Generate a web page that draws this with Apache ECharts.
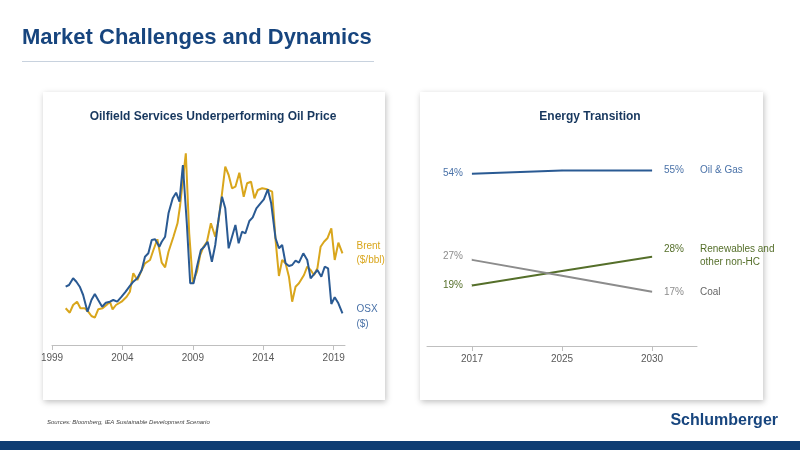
<!DOCTYPE html>
<html><head><meta charset="utf-8">
<script src="https://cdn.jsdelivr.net/npm/echarts@6/dist/echarts.min.js"></script>
<style>html,body{margin:0;padding:0;background:#fff}#c{width:800px;height:450px}</style>
</head><body><div id="c"></div>
<script>
const FONT = '"Liberation Sans Narrow","Liberation Sans",Arial,sans-serif';
// Left chart: indexed price (relative), year fraction
const brentYears = [1999.97,2000.26,2000.50,2000.78,2001.02,2001.33,2001.57,2001.80,2002.04,2002.28,2002.59,2002.87,2003.11,2003.30,2003.54,2003.94,2004.30,2004.53,2004.77,2005.06,2005.37,2005.60,2005.96,2006.20,2006.48,2006.79,2007.03,2007.27,2007.62,2007.91,2008.10,2008.29,2008.50,2008.74,2009.00,2009.29,2009.52,2009.76,2010.00,2010.28,2010.59,2010.83,2011.07,2011.30,2011.54,2011.78,2012.02,2012.30,2012.61,2012.85,2013.13,2013.37,2013.61,2013.92,2014.27,2014.63,2014.87,2015.11,2015.34,2015.58,2015.82,2016.05,2016.29,2016.53,2016.89,2017.12,2017.36,2017.60,2017.84,2018.07,2018.31,2018.55,2018.83,2019.07,2019.33,2019.62];
const brentValues = [36.7,32.3,40,43.3,36.7,36.7,33.3,29,27.3,35.7,36.7,40,43.3,35.7,40,43.3,48.3,53.3,71.7,65,75,81.7,85,95,105.7,82.3,77.7,93.3,108.3,121.7,140,165,191.7,111.7,62.3,73.3,90,98.3,103.3,121.7,108.3,125,151.7,178.3,170,156.7,158.3,172.3,148.3,161.7,163.3,146.7,155,156.7,155.7,153.3,105,69,85,81.7,68.3,43.3,58.3,61.7,70,78.3,75,70,76.7,98.3,103.3,106.7,116.7,85,102.3,91.7];
const osxYears = [1999.97,2000.21,2000.50,2000.73,2000.97,2001.21,2001.52,2001.80,2002.04,2002.28,2002.56,2002.82,2003.11,2003.35,2003.63,2003.94,2004.23,2004.49,2004.77,2005.06,2005.37,2005.60,2005.84,2006.08,2006.32,2006.62,2006.79,2007.03,2007.27,2007.57,2007.81,2008.05,2008.29,2008.57,2008.81,2009.05,2009.29,2009.57,2009.81,2010.05,2010.35,2010.59,2010.83,2011.07,2011.30,2011.54,2011.78,2012.02,2012.25,2012.49,2012.73,2013.01,2013.25,2013.51,2013.80,2014.04,2014.32,2014.56,2014.87,2015.11,2015.34,2015.58,2015.82,2016.05,2016.29,2016.53,2016.84,2017.12,2017.36,2017.65,2017.84,2018.12,2018.36,2018.60,2018.83,2019.07,2019.33,2019.62];
const osxValues = [58.3,60,66.7,63.3,58.3,50,33.3,45,51,45,38.3,42.3,43.3,45,43.3,48.3,53.3,58.3,63.3,66.7,75,88.3,91.7,105,105.7,98.3,103.3,108.3,131.7,146.7,152.3,143.3,180,121.7,61.7,61.7,78.3,95,98.3,103.3,83.3,100,126.7,148.3,136.7,96.7,108.3,120,101.7,113.3,111.7,124,127.7,136.7,141.7,145.7,155.7,141.7,106.7,96.7,100,81.7,79,80,84.3,82.3,91.7,85,66.7,71.7,75,68.3,78.3,76.7,41,47.7,41.7,31.7];
const leftTicks = [1999,2004,2009,2014,2019];
// Right chart: share of energy mix (%)
const etCategories = ['2017','2025','2030'];
const oilGas = [54,55,55];
const renewables = [19,23.5,28];
const coal = [27,22,17];

const chart = echarts.init(document.getElementById('c'));
function xy(arr, ys){return arr.map((y,i)=>[y, ys[i]]);}
const card = (x,y,w,h)=>({type:'rect',shape:{x,y,width:w,height:h},style:{fill:'#fff',shadowBlur:6,shadowOffsetX:1,shadowOffsetY:2,shadowColor:'rgba(0,0,0,0.25)'},z:-10});
const startLabel = (arr,color,off)=>({show:true,position:'left',distance:8,color,fontSize:10,offset:off||[0,0],formatter:p=>p.dataIndex===0?arr[0]+'%':''});
chart.setOption({
  animation:false,
  textStyle:{fontFamily:FONT},
  graphic:[
    card(43,92,342,308), card(420,92,343,308),
    {type:'text',left:22,top:27,style:{text:'Market Challenges and Dynamics',font:'bold 22px '+FONT,fill:'#17457e'}},
    {type:'rect',shape:{x:22,y:61,width:352,height:1},style:{fill:'#c8d2de'}},
    {type:'text',x:213,y:117,style:{text:'Oilfield Services Underperforming Oil Price',font:'bold 12px '+FONT,fill:'#17375e',align:'center',verticalAlign:'middle'}},
    {type:'text',x:590,y:117,style:{text:'Energy Transition',font:'bold 12px '+FONT,fill:'#17375e',align:'center',verticalAlign:'middle'}},
    {type:'text',x:47,y:422,style:{text:'Sources: Bloomberg, IEA Sustainable Development Scenario',font:'italic 6px '+FONT,fill:'#444',verticalAlign:'middle'}},
    {type:'text',x:778,y:421,style:{text:'Schlumberger',font:'bold 16px '+FONT,fill:'#17457e',align:'right',verticalAlign:'middle'}},
    {type:'rect',shape:{x:0,y:441,width:800,height:9},style:{fill:'#0f3d73'}}
  ],
  grid:[
    {left:52,top:150,width:293,height:195},
    {left:427,top:154.6,width:270,height:191.4}
  ],
  xAxis:[
    {type:'value',gridIndex:0,min:1999,max:2019.8,interval:5,
     axisLine:{lineStyle:{color:'#bfbfbf'}},axisTick:{show:true,lineStyle:{color:'#bfbfbf'}},
     splitLine:{show:false},axisLabel:{color:'#595959',fontSize:10,showMaxLabel:false,formatter:v=>leftTicks.includes(v)?String(v):''}},
    {type:'category',gridIndex:1,data:etCategories,boundaryGap:true,
     axisLine:{lineStyle:{color:'#bfbfbf'}},axisTick:{show:true,alignWithLabel:true,lineStyle:{color:'#bfbfbf'}},
     axisLabel:{color:'#595959',fontSize:10}}
  ],
  yAxis:[
    {type:'value',gridIndex:0,min:0,max:195,show:false,splitLine:{show:false}},
    {type:'value',gridIndex:1,min:0,max:60,show:false,splitLine:{show:false}}
  ],
  series:[
    {type:'line',xAxisIndex:0,yAxisIndex:0,data:xy(brentYears,brentValues),showSymbol:false,
     lineStyle:{color:'#d9a61c',width:2},itemStyle:{color:'#d9a61c'},
     endLabel:{show:true,formatter:'Brent\n($/bbl)',color:'#d9a61c',fontSize:10,lineHeight:14,offset:[6,0]}},
    {type:'line',xAxisIndex:0,yAxisIndex:0,data:xy(osxYears,osxValues),showSymbol:false,
     lineStyle:{color:'#2a5a93',width:2},itemStyle:{color:'#2a5a93'},
     endLabel:{show:true,formatter:'OSX\n($)',color:'#4a72a8',fontSize:10,lineHeight:15,offset:[6,3]}},
    {type:'line',xAxisIndex:1,yAxisIndex:1,data:oilGas,showSymbol:true,symbolSize:0.1,
     lineStyle:{color:'#2a5a93',width:2},itemStyle:{color:'#2a5a93'},
     label:startLabel(oilGas,'#4a72a8'),
     endLabel:{show:true,formatter:p=>'{a|'+oilGas[2]+'%}{b|Oil & Gas}',offset:[4,0],
       rich:{a:{color:'#4a72a8',fontSize:10,width:36},b:{color:'#4a72a8',fontSize:10}}}},
    {type:'line',xAxisIndex:1,yAxisIndex:1,data:renewables,showSymbol:true,symbolSize:0.1,
     lineStyle:{color:'#556f2a',width:2},itemStyle:{color:'#556f2a'},
     label:startLabel(renewables,'#556f2a'),
     endLabel:{show:true,formatter:p=>'{a|'+renewables[2]+'%}{b|Renewables and}\n{s|}{b|other non-HC}',offset:[4,-1],
       rich:{a:{color:'#556f2a',fontSize:10,width:36},s:{width:36},b:{color:'#556f2a',fontSize:10,lineHeight:13}}}},
    {type:'line',xAxisIndex:1,yAxisIndex:1,data:coal,showSymbol:true,symbolSize:0.1,
     lineStyle:{color:'#8c8c8c',width:2},itemStyle:{color:'#8c8c8c'},
     label:startLabel(coal,'#8c8c8c',[0,-4]),
     endLabel:{show:true,formatter:p=>'{a|'+coal[2]+'%}{b|Coal}',offset:[4,0],
       rich:{a:{color:'#8c8c8c',fontSize:10,width:36},b:{color:'#666',fontSize:10}}}}
  ]
});
</script></body></html>
